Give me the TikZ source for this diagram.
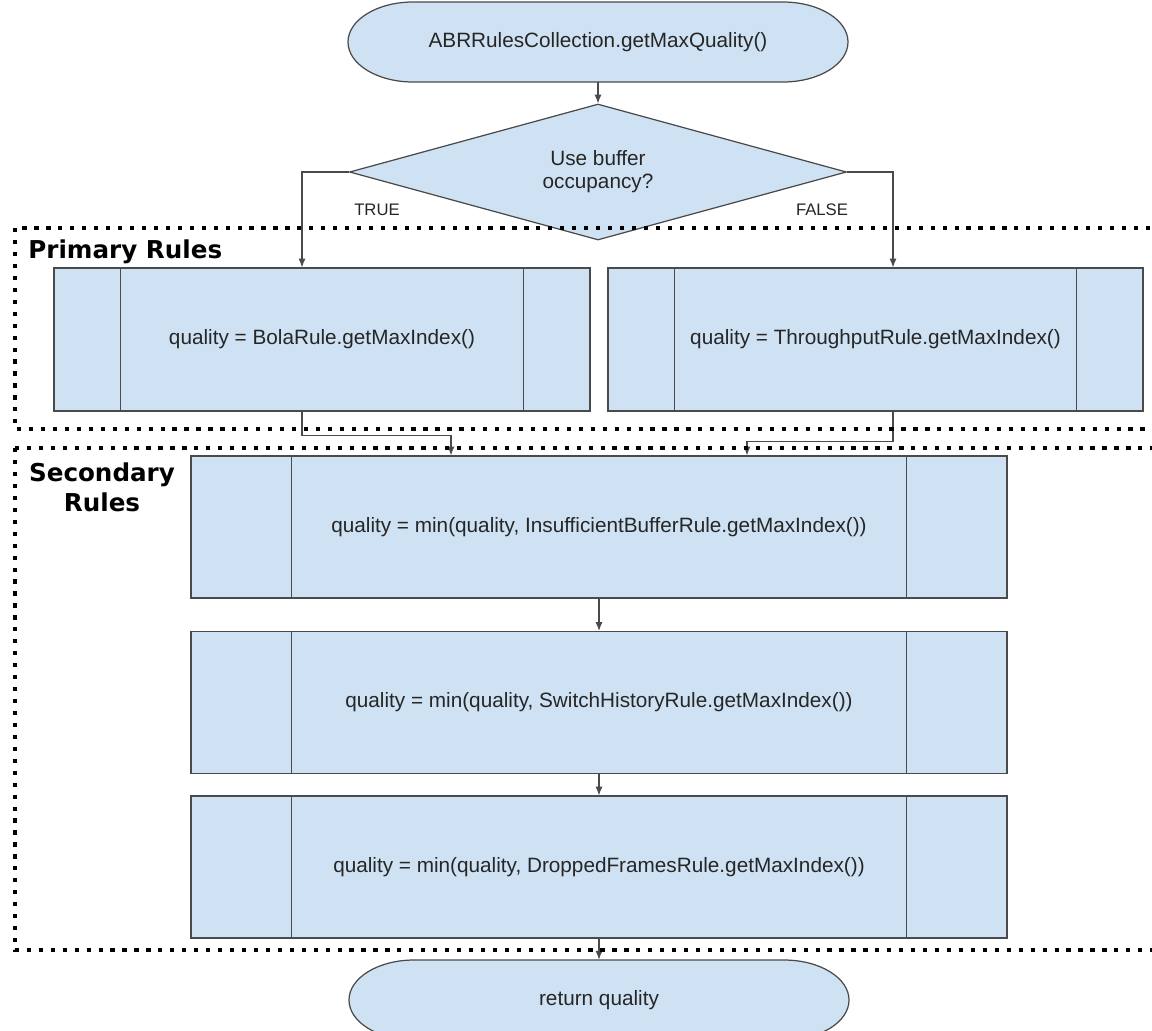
\documentclass[tikz,border=0pt]{standalone}
\usepackage{fontspec}
\setmainfont{Liberation Sans}
\newfontfamily\groupFont{DejaVu Sans}
\usetikzlibrary{shapes.geometric,arrows.meta}

\definecolor{boxBlue}{HTML}{CFE2F3}
\definecolor{lineGray}{HTML}{4A4A4A}
\definecolor{textGray}{HTML}{262626}

\def \sideSmall {1.34cm}
\def \sideBig {2.02cm}

\tikzset{
   box/.style={rectangle, draw=lineGray, fill=boxBlue, line width=0.7pt, text=textGray,
      font=\fontsize{11.8}{14}\selectfont, inner sep=0pt},
   primaryBox/.style={box, minimum width=10.72cm, minimum height=2.86cm},
   secondaryBox/.style={box, minimum width=16.32cm, minimum height=2.84cm},
   decision/.style={box, diamond, aspect=3.6, minimum width=9.94cm, minimum height=2.72cm,
      align=center, font=\fontsize{11.8}{13.2}\selectfont},
   termText/.style={rectangle, minimum width=10cm, minimum height=1.6cm, inner sep=0pt,
      text=textGray, font=\fontsize{11.8}{14}\selectfont},
   termShape/.style={draw=lineGray, fill=boxBlue, line width=0.7pt},
   terminal/.pic={
      \filldraw[termShape] (-3.7,0.8) -- (3.7,0.8)
         arc[start angle=90, end angle=-90, x radius=1.3, y radius=0.8]
         -- (-3.7,-0.8)
         arc[start angle=270, end angle=90, x radius=1.3, y radius=0.8] -- cycle;
   },
   arr/.style={-{Latex[length=5pt,width=4pt]}, draw=lineGray, line width=0.6pt},
   groupBox/.style={draw=black, line width=2.4pt, dash pattern=on 2.4pt off 4.4pt},
   groupLabel/.style={text=black, inner sep=0pt, font=\groupFont\bfseries\fontsize{14}{17}\selectfont},
   branchLabel/.style={text=textGray, font=\fontsize{9.5}{11}\selectfont}
}

\begin{document}
\begin{tikzpicture}

   \useasboundingbox (0,0) rectangle (23.04,-20.6);
   \clip (0,0) rectangle (23.04,-20.6);

   % start and decision
   \pic at (11.96,-0.84) {terminal};
   \node[termText] (start) at (11.96,-0.84) {ABRRulesCollection.getMaxQuality()};
   \node[decision] (decide) at (11.96,-3.44) {Use buffer\\occupancy?};
   \node[branchLabel] (true) at (7.54,-4.2) {TRUE};
   \node[branchLabel] (false) at (16.44,-4.2) {FALSE};

   % primary rules
   \node[primaryBox] (bola) at (6.44,-6.79) {quality = BolaRule.getMaxIndex()};
   \node[primaryBox, minimum width=10.7cm] (thru) at (17.51,-6.79) {quality = ThroughputRule.getMaxIndex()};

   % secondary rules
   \node[secondaryBox] (insuff) at (11.98,-10.54) {quality = min(quality, InsufficientBufferRule.getMaxIndex())};
   \node[secondaryBox] (switch) at (11.98,-14.05) {quality = min(quality, SwitchHistoryRule.getMaxIndex())};
   \node[secondaryBox] (dropped) at (11.98,-17.34) {quality = min(quality, DroppedFramesRule.getMaxIndex())};

   % end
   \pic at (11.98,-20.0) {terminal};
   \node[termText] (finish) at (11.98,-20.0) {return quality};

   % side bars of the predefined process boxes
   \foreach \n/\w in {bola/\sideSmall, thru/\sideSmall, insuff/\sideBig, switch/\sideBig, dropped/\sideBig} {
      \draw[lineGray, line width=0.7pt] ([xshift=\w]\n.north west) -- ([xshift=\w]\n.south west);
      \draw[lineGray, line width=0.7pt] ([xshift=-\w]\n.north east) -- ([xshift=-\w]\n.south east);
   }

   % connectors
   \draw[arr] (start) -- (decide);
   \draw[arr] (decide.west) -| ([xshift=-0.4cm]bola.north);
   \draw[arr] (decide.east) -| ([xshift=0.35cm]thru.north);
   \draw[arr] ([xshift=-0.4cm]bola.south) -- ++(0,-0.48) -| ([xshift=-2.96cm]insuff.north);
   \draw[arr] ([xshift=0.35cm]thru.south) -- ++(0,-0.6) -| ([xshift=2.96cm]insuff.north);
   \draw[arr] (insuff) -- (switch);
   \draw[arr] (switch) -- (dropped);
   \draw[arr] (dropped) -- (finish);

   % rule groups
   \draw[groupBox] (0.3,-4.56) rectangle (24,-8.58);
   \draw[groupBox] (0.3,-8.96) rectangle (24,-19.0);
   \node[groupLabel, anchor=west] (primLabel) at (0.56,-5.04) {Primary Rules};
   \node[groupLabel, align=center] (secLabel) at (2.04,-9.74) {Secondary\\Rules};

\end{tikzpicture}
\end{document}
